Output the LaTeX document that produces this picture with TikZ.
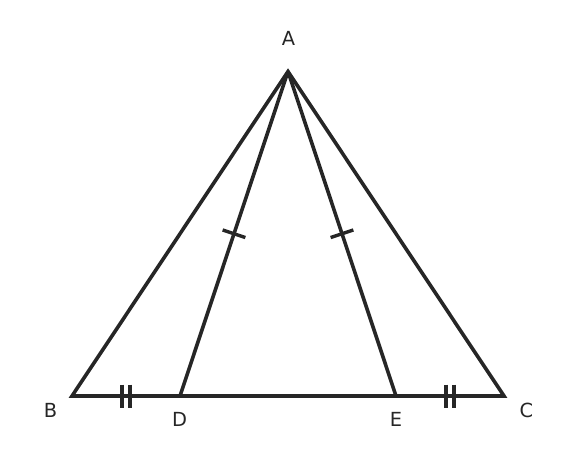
\documentclass[tikz,border=0pt]{standalone}
\usepackage{fontspec}
\setmainfont{DejaVu Sans}
\usetikzlibrary{calc}
\definecolor{ink}{HTML}{262626}
\tikzset{
  seg/.style={draw=ink, line width=3.6pt, line join=miter},
  tick/.style={draw=ink, line width=3.4pt},
  lab/.style={text=ink, font=\fontsize{19.4}{22}\selectfont, inner sep=0pt}
}
\begin{document}
\begin{tikzpicture}[x=1pt,y=-1pt]
\useasboundingbox (0,0) rectangle (576,468);
\coordinate (A) at (288,71.5);
\coordinate (B) at (72,396);
\coordinate (C) at (504,396);
\coordinate (D) at (180,396);
\coordinate (E) at (396,396);
\path[seg] (B) -- (A) -- (C) -- cycle;
\path[seg] (A) -- (D);
\path[seg] (A) -- (E);
% single ticks on AD and AE
\coordinate (mAD) at ($(A)!0.5!(D)$);
\coordinate (mAE) at ($(A)!0.5!(E)$);
\path[tick] ($(mAD)!12pt!90:(D)$) -- ($(mAD)!12pt!-90:(D)$);
\path[tick] ($(mAE)!12pt!90:(E)$) -- ($(mAE)!12pt!-90:(E)$);
% double ticks on BD and EC
\coordinate (mBD) at ($(B)!0.5!(D)$);
\coordinate (mEC) at ($(E)!0.5!(C)$);
\foreach \m/\t in {mBD/D, mEC/C}{
  \coordinate (p1) at ($(\m)!4pt!(\t)$);
  \coordinate (p2) at ($(\m)!-4pt!(\t)$);
  \path[tick] ($(p1)!11.5pt!90:(\t)$) -- ($(p1)!11.5pt!-90:(\t)$);
  \path[tick] ($(p2)!11.5pt!90:(\t)$) -- ($(p2)!11.5pt!-90:(\t)$);
}
\node[lab] (lA) at (288.5,38) {A};
\node[lab] (lB) at (50.5,410) {B};
\node[lab] (lC) at (526.5,410) {C};
\node[lab] (lD) at (179.5,419.5) {D};
\node[lab] (lE) at (396,419.5) {E};
\end{tikzpicture}
\end{document}
